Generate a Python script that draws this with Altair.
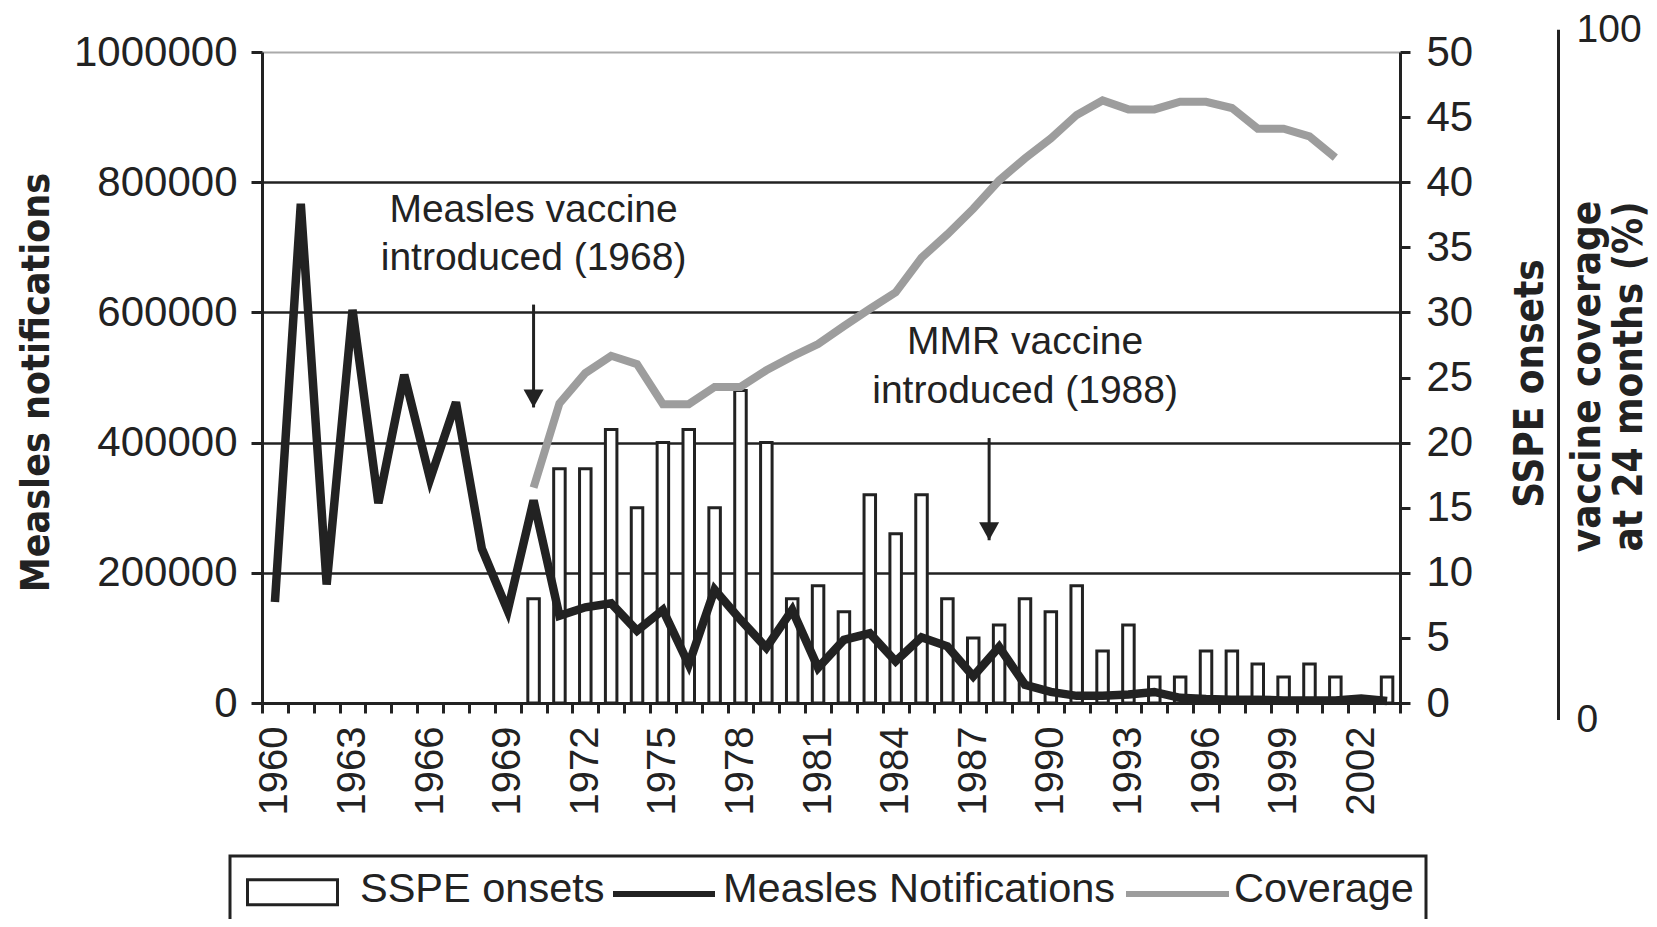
import altair as alt
import pandas as pd

# ---------------- data ----------------
years = list(range(1960, 2004))
measles = [155000, 767000, 182000, 604000, 307000, 504000, 344000, 462000, 237000, 142000,
           311000, 134000, 147000, 153000, 111000, 143000, 59000, 174000, 128000, 85000,
           143000, 54000, 97000, 107000, 64000, 101000, 87000, 41000, 86000, 28000,
           17000, 11000, 11000, 13000, 17000, 8000, 6000, 5000, 5000, 4000,
           4000, 4000, 7000, 3000]

sspe_years = list(range(1970, 2004))
sspe = [8, 18, 18, 21, 15, 20, 21, 15, 24, 20,
        8, 9, 7, 16, 13, 16, 8, 5, 6, 8,
        7, 9, 4, 6, 2, 2, 4, 4, 3, 2,
        3, 2, 0, 2]

cov_years = list(range(1970, 2002))
coverage = [33.6, 45.8, 50.2, 52.7, 51.5, 45.7, 45.7, 48.2, 48.2, 50.6,
            52.6, 54.4, 57.0, 59.5, 61.9, 66.9, 70.3, 74.0, 78.1, 81.3,
            84.2, 87.6, 89.7, 88.4, 88.4, 89.5, 89.5, 88.6, 85.6, 85.6,
            84.5, 81.4]

note_years = [1970, 1970, 1988, 1988]
note_values = [758000, 683000, 554000, 480000]
note_text = ["Measles vaccine", "introduced (1968)", "MMR vaccine", "introduced (1988)"]

arrow_years = [1970, 1988]
arrow_from = [612000, 407000]
arrow_to = [454000, 250000]

series = ["SSPE onsets", "Measles Notifications", "Coverage"]
left_ticks = [0, 200000, 400000, 600000, 800000, 1000000]
right_ticks = list(range(0, 51, 5))
cov_ticks = [0, 100]

# ---------------- styling ----------------
INK = "#222222"
GREY = "#9d9d9d"
SANS = "Liberation Sans, Arial, Helvetica, sans-serif"
COND = "DejaVu Sans Condensed, Liberation Sans, sans-serif"

W, H = 1138, 651

measles_df = pd.DataFrame({"year": years, "measles": measles})
sspe_df = pd.DataFrame({"year": sspe_years, "sspe": sspe})
sspe_df = sspe_df[sspe_df["sspe"] > 0]
cov_df = pd.DataFrame({"year": cov_years, "coverage": coverage})
notes_df = pd.DataFrame({"year": note_years, "val": note_values, "txt": note_text})
arrows_df = pd.DataFrame({"year": arrow_years, "top": arrow_from, "tip": arrow_to})
legend_df = pd.DataFrame({"series": series})

x_scale = alt.Scale(domain=years, paddingInner=0, paddingOuter=0)
x_axis = alt.Axis(
    title=None, tickBand="extent",
    labelExpr="(datum.value - 1960) % 3 === 0 && datum.value <= 2002 ? datum.label : ''",
    labelAngle=270, labelFont=SANS, labelFontSize=40, labelColor=INK,
    labelPadding=13, labelOverlap=False, labelFlush=False,
    tickSize=10, tickWidth=3, tickColor=INK,
    domainColor=INK, domainWidth=3, grid=False,
)


def xe():
    return alt.X("year:O", scale=x_scale, axis=x_axis)


m_scale = alt.Scale(domain=[0, 1000000], nice=False)
left_axis = alt.Axis(
    orient="left", values=left_ticks, format="d",
    title="Measles notifications", titleFont=COND, titleFontWeight="bold",
    titleFontSize=39, titleColor=INK, titleAngle=270, titleAlign="center",
    titleBaseline="alphabetic", titleX=-214, titleY=330,
    labelFont=SANS, labelFontSize=42, labelColor=INK, labelPadding=14,
    tickSize=11, tickWidth=3, tickColor=INK, domainColor=INK, domainWidth=3,
    grid=True,
    gridColor={"condition": {"test": "datum.value === 1000000", "value": "#aaaaaa"}, "value": INK},
    gridWidth={"condition": {"test": "datum.value === 1000000", "value": 2}, "value": 2.5},
)


def ym(field):
    return alt.Y(field, scale=m_scale, axis=left_axis)


right_axis = alt.Axis(
    orient="right", values=right_ticks,
    title="SSPE onsets", titleFont=COND, titleFontWeight="bold",
    titleFontSize=40, titleColor=INK, titleAngle=270, titleAlign="center",
    titleBaseline="alphabetic", titleX=142, titleY=331,
    labelFont=SANS, labelFontSize=42, labelColor=INK, labelPadding=16,
    tickSize=10, tickWidth=3, tickColor=INK, domainColor=INK, domainWidth=3,
    grid=False,
)

cov_axis = alt.Axis(
    orient="right", offset=158, values=cov_ticks, ticks=False, tickSize=0,
    title=["vaccine coverage", "at 24 months (%)"], titleFont=COND,
    titleFontWeight="bold", titleFontSize=40, titleColor=INK, titleAngle=270,
    titleAlign="center", titleBaseline="alphabetic", titleLineHeight=42,
    titleX=41, titleY=324,
    labelFont=SANS, labelFontSize=39, labelColor=INK, labelPadding=18,
    domainColor=INK, domainWidth=3, grid=False,
)

# ---------------- layers ----------------
bars = alt.Chart(sspe_df).mark_bar(width=11.5, fill="white", stroke=INK, strokeWidth=3).encode(
    x=xe(),
    y=alt.Y("sspe:Q", scale=alt.Scale(domain=[0, 50], nice=False), axis=right_axis),
)

cov_line = alt.Chart(cov_df).mark_line(color=GREY, strokeWidth=8).encode(
    x=xe(),
    y=alt.Y("coverage:Q", scale=alt.Scale(domain=[0, 100], range=[667.6, -22.7], nice=False),
            axis=cov_axis),
)

measles_line = alt.Chart(measles_df).mark_line(color=INK, strokeWidth=8.5).encode(
    x=xe(),
    y=ym("measles:Q"),
)

HEAD = "M-1,-1.8L1,-1.8L0,0Z"


def annotation(year, dx, xoff):
    txt = alt.Chart(notes_df).transform_filter(alt.datum.year == year).mark_text(
        font=SANS, fontSize=39, color=INK, align="center", baseline="middle", dx=dx
    ).encode(x=xe(), y=ym("val:Q"), text="txt:N")
    rule = alt.Chart(arrows_df).transform_filter(alt.datum.year == year).mark_rule(
        color=INK, strokeWidth=3, xOffset=xoff
    ).encode(x=xe(), y=ym("top:Q"), y2="tip:Q")
    head = alt.Chart(arrows_df).transform_filter(alt.datum.year == year).mark_point(
        shape=HEAD, filled=True, size=400, color=INK, opacity=1, xOffset=xoff
    ).encode(x=xe(), y=ym("tip:Q"))
    return [txt, rule, head]


left_group = alt.layer(measles_line, *annotation(1970, 0, 0), *annotation(1988, 26, -10))

RECT = "M-0.8,-0.5H3.7V0.75H-0.8Z"
BLACK_LINE = "M-0.6,0.125H4.35V0.275H-0.6Z"
GREY_LINE = "M-0.5,0.125H4.5V0.275H-0.5Z"

legend_layer = alt.Chart(legend_df).mark_point(size=0, filled=True, strokeWidth=3, opacity=1).encode(
    x=alt.value(0),
    y=alt.value(0),
    fill=alt.Fill(
        "series:N",
        scale=alt.Scale(domain=series, range=["white", INK, GREY]),
        legend=alt.Legend(
            title=None, orient="none", legendX=-32, legendY=804,
            direction="horizontal", columns=3, columnPadding=-8,
            labelFont=SANS, labelFontSize=41.5, labelColor=INK,
            labelOffset=75, labelLimit=800, padding=12,
            symbolSize=1600, symbolOpacity=1, symbolStrokeWidth=3,
            strokeColor=INK, fillColor="white",
        ),
    ),
    stroke=alt.Stroke("series:N", scale=alt.Scale(domain=series, range=[INK, INK, GREY])),
    shape=alt.Shape("series:N", scale=alt.Scale(domain=series, range=[RECT, BLACK_LINE, GREY_LINE])),
)

chart = alt.layer(bars, cov_line, left_group, legend_layer).resolve_scale(
    y="independent"
).properties(
    width=W, height=H,
    padding={"left": 254, "top": 44, "right": 249, "bottom": 216},
    autosize=alt.AutoSizeParams(type="none"),
    background="white",
).configure_view(stroke=None).configure_legend(strokeWidth=3)

chart.save("out.html", embed_options={"renderer": "svg", "actions": False})
